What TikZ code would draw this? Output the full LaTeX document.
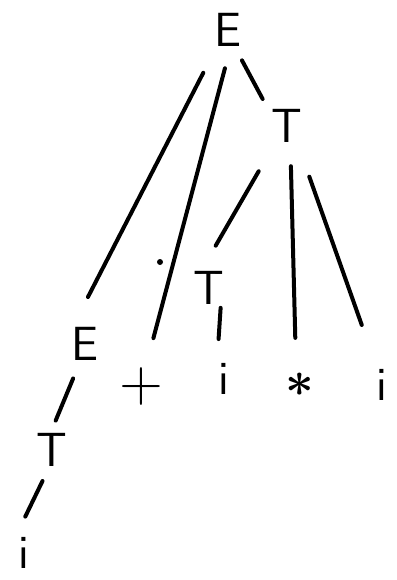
\documentclass[tikz,border=0pt]{standalone}
\usepackage{tikz}
\usetikzlibrary{positioning}

\begin{document}
\begin{tikzpicture}[x=0.5pt,y=-0.5pt,
  sym/.style={circle,inner sep=0pt,minimum size=36pt,font=\sffamily\fontsize{24}{28}\selectfont},
  op/.style={sym,font=\sffamily\boldmath\fontsize{30}{34}\selectfont},
  br/.style={line width=2pt,line cap=round}]
\useasboundingbox (0,0) rectangle (397,580);
% symbols
\node[sym] (E0) at (228,30){E};
\node[sym] (T0) at (287,126){T};
\node[sym] (E1) at (85,344){E};
\node[sym] (T1) at (209,288){T};
\node[sym] (T2) at (52,450){T};
\node[op] (p) at (141,387){+};
\node[sym] (i1) at (224,379){i};
\node[op] (st) at (300,385){$\ast$};
\node[sym] (i2) at (382,385){i};
\node[sym] (i0) at (24,553){i};
% branches
\draw[br,shorten <=6.5pt,shorten >=6pt] (E0.-121)--(E1.94);
\draw[br,shorten <=1pt,shorten >=7pt] (E0.-94)--(p.76);
\draw[br,shorten <=-1.5pt] (E0.-65)--(T0.132);
\draw[br,shorten <=8.5pt,shorten >=3.5pt] (T0.-123)--(T1.85);
\draw[br,shorten <=2pt,shorten >=5.5pt] (T0.-84)--(st.97);
\draw[br,shorten <=9.5pt,shorten >=13.5pt] (T0.-64)--(i2.108);
\draw[br,shorten <=-7.5pt,shorten >=2pt] (T1.-73)--(i1.99);
\draw[br,shorten >=-3.5pt] (E1.-109)--(T2.80);
\draw[br,shorten <=-2pt] (T2.-108)--(i0.88);
\fill (160,262) circle (1.5pt);
\end{tikzpicture}
\end{document}
